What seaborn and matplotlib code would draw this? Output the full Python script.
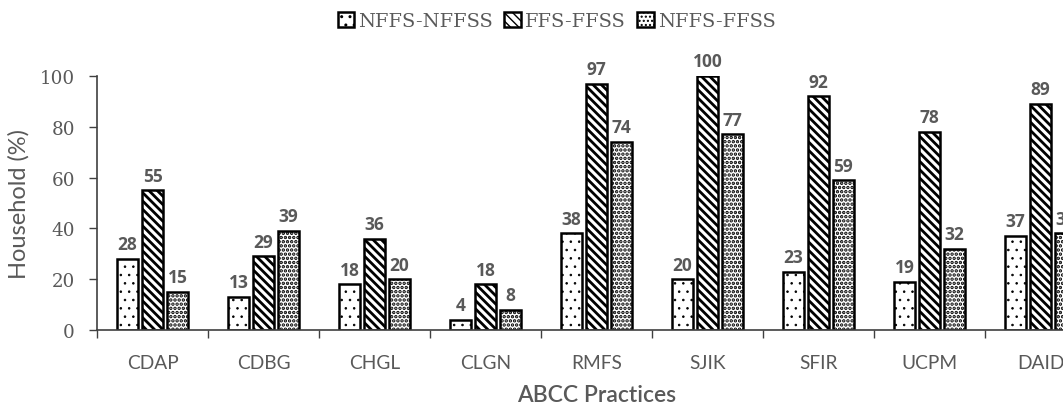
import matplotlib
matplotlib.use("Agg")
import matplotlib.pyplot as plt
from matplotlib.patches import Patch
import seaborn as sns
import pandas as pd
import numpy as np

categories = ["CDAP", "CDBG", "CHGL", "CLGN", "RMFS", "SJIK", "SFIR", "UCPM", "DAID"]
series_names = ["NFFS-NFFSS", "FFS-FFSS", "NFFS-FFSS"]
nffs_nffss = [28, 13, 18, 4, 38, 20, 23, 19, 37]
ffs_ffss = [55, 29, 36, 18, 97, 100, 92, 78, 89]
nffs_ffss = [15, 39, 20, 8, 74, 77, 59, 32, 38]
y_ticks = [0, 20, 40, 60, 80, 100]

hatches = ["..", "\\\\\\\\", "...."]
hatch_lw = [0.6, 2.0, 1.7]
GRAY = "#595959"

sns.set_theme(style="white")
plt.rcParams["hatch.linewidth"] = 1.0
plt.rcParams["font.family"] = ["Lato", "DejaVu Sans"]

df = pd.DataFrame({
    "Practice": categories * 3,
    "Series": sum([[s] * len(categories) for s in series_names], []),
    "Value": nffs_nffss + ffs_ffss + nffs_ffss,
})

fig = plt.figure(figsize=(10.63, 4.10), dpi=100)
ax = fig.add_axes([97 / 1063, 79 / 410, 999 / 1063, 254 / 410])

sns.barplot(data=df, x="Practice", y="Value", hue="Series", order=categories,
            hue_order=series_names, palette=["white"] * 3, edgecolor="black",
            linewidth=1.8, width=0.675, gap=0.16, legend=False, ax=ax,
            errorbar=None, saturation=1)

for cont, h, hl in zip(ax.containers, hatches, hatch_lw):
    for p in cont.patches:
        p.set_hatch(h)
        p.set_facecolor("white")
        p.set_edgecolor("black")
        if hasattr(p, "set_hatch_linewidth"):
            p.set_hatch_linewidth(hl)
    ax.bar_label(cont, padding=4, fontsize=12.5, fontweight="bold", color=GRAY,
                 fontfamily=["Open Sans", "DejaVu Sans"])

ax.set_ylim(0, 100)
ax.set_xlim(-0.5, len(categories) - 0.5)
ax.set_yticks(y_ticks)
ax.set_yticklabels([str(t) for t in y_ticks], fontfamily=["DejaVu Serif"],
                   fontsize=13.2, color=GRAY)
ax.tick_params(axis="y", direction="out", length=6, width=1, color="#404040", left=True, pad=10)
ax.set_xticks(range(len(categories)))
ax.set_xticklabels(categories, fontsize=13.8, color=GRAY)
ax.tick_params(axis="x", which="major", length=0, pad=17)
ax.set_xticks(np.arange(-0.5, len(categories), 1.0), minor=True)
ax.tick_params(axis="x", which="minor", direction="out", length=6, width=1, color="#404040", bottom=True)

for s in ["top", "right"]:
    ax.spines[s].set_visible(False)
for s in ["left", "bottom"]:
    ax.spines[s].set_color("#404040")
    ax.spines[s].set_linewidth(1.2)

ax.set_ylabel("Household (%)", fontsize=17, color=GRAY, labelpad=7)
ax.set_xlabel("ABCC Practices", fontsize=16.5, color=GRAY, fontweight="semibold", labelpad=10)

handles = []
for h, hl in zip(hatches, hatch_lw):
    hp = Patch(facecolor="white", edgecolor="black", hatch=h, linewidth=1.8)
    if hasattr(hp, "set_hatch_linewidth"):
        hp.set_hatch_linewidth(hl)
    handles.append(hp)
fig.legend(handles, series_names, loc="upper center", bbox_to_anchor=(0.5235, 1.012), ncol=3,
           frameon=False, handlelength=0.85, handleheight=0.85, handletextpad=0.2,
           columnspacing=0.6, prop={"family": ["DejaVu Serif"], "size": 14},
           labelcolor=GRAY)

fig.savefig("out.png", dpi=100)
